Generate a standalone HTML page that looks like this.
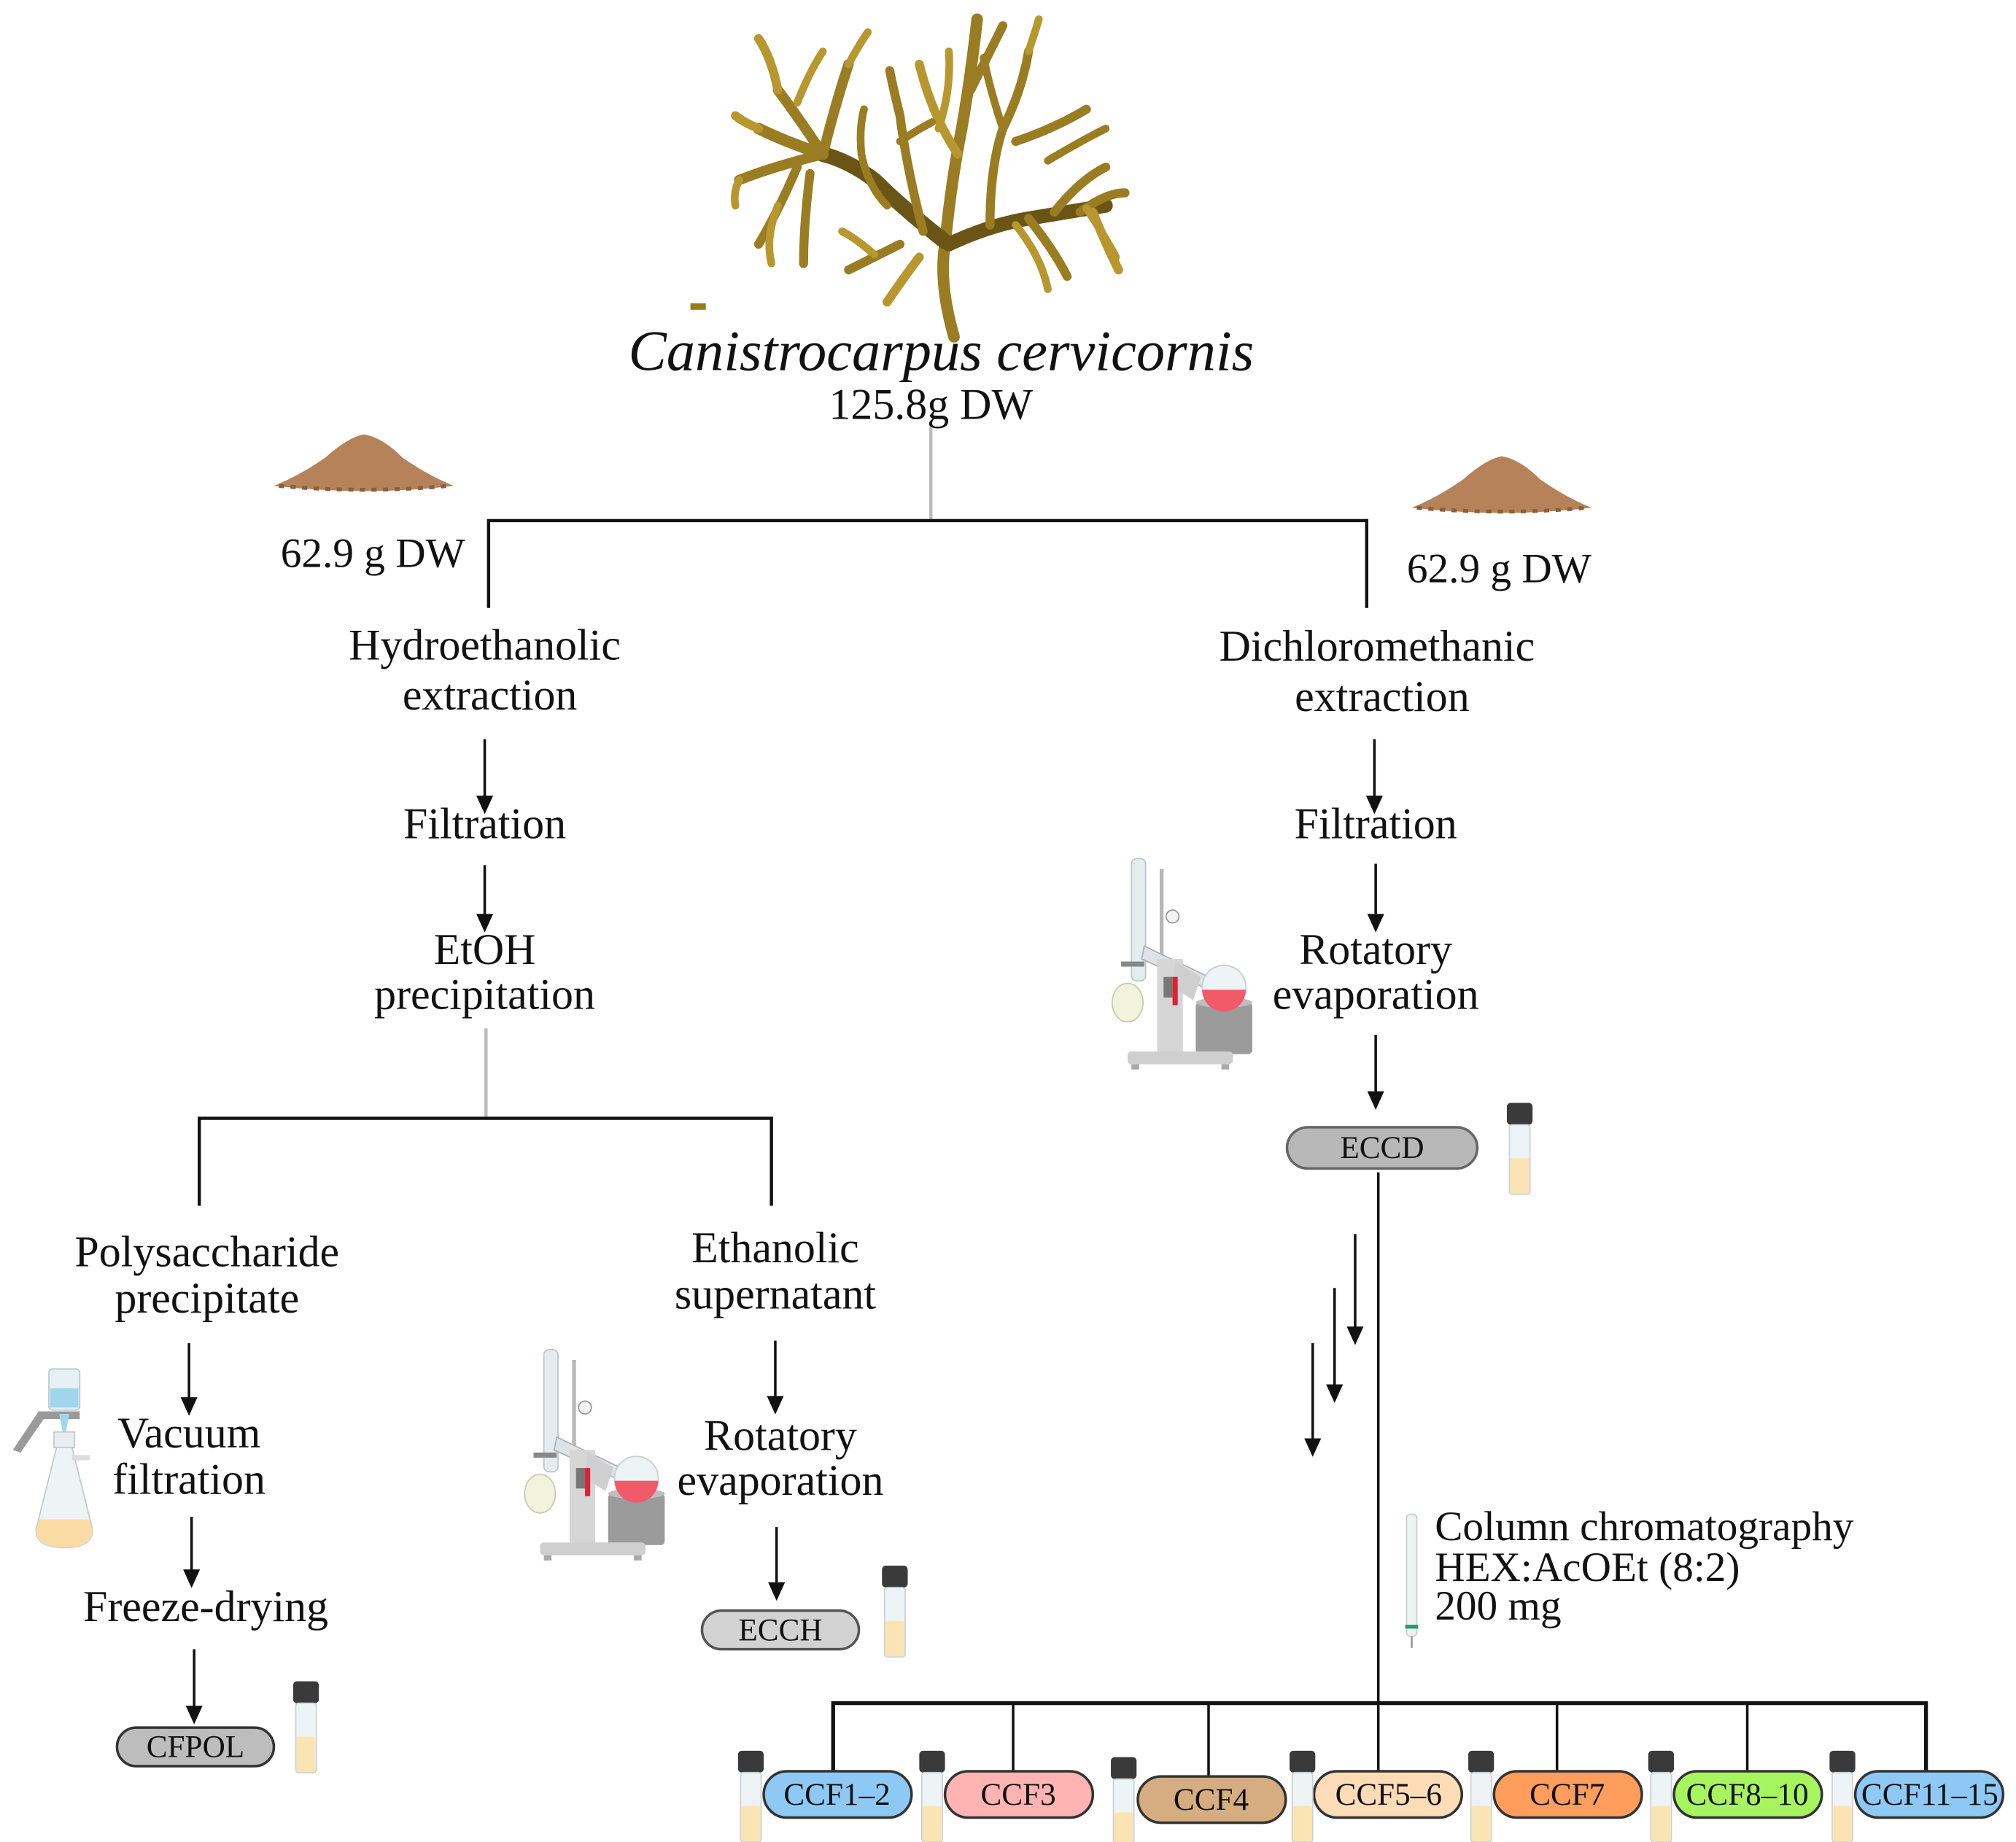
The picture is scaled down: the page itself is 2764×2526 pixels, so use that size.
<!DOCTYPE html>
<html><head><meta charset="utf-8"><style>
html,body{margin:0;padding:0;background:#fff}
svg{display:block}
text{font-family:"Liberation Serif",serif;fill:#111}
</style></head><body>
<svg width="2764" height="2526" viewBox="0 0 1568 1433" xmlns="http://www.w3.org/2000/svg">
<defs>
<g id="vial">
<rect x="0" y="0" width="20" height="17" rx="3" fill="#3a3a3a"/>
<rect x="2" y="17" width="16" height="54" rx="2" fill="#eef3f6" stroke="#c9d2d6" stroke-width="1"/>
<rect x="2.5" y="43" width="15" height="27.5" rx="2" fill="#fbe4b4"/>
</g>
<g id="rotavap">
<rect x="18" y="0" width="11" height="95" rx="4" fill="#e4ecef" stroke="#bcc6ca"/>
<rect x="40" y="8" width="3" height="150" fill="#b8b8b8"/>
<circle cx="50" cy="45" r="5" fill="#f2f2f2" stroke="#999"/>
<path d="M28 68 L78 92 L74 100 L26 78Z" fill="#dde3e6" stroke="#b0b0b0"/>
<rect x="38" y="78" width="20" height="75" fill="#d6d6d6"/>
<path d="M52 80 L72 92 L66 110 L50 100Z" fill="#cfcfcf"/>
<rect x="50" y="92" width="4" height="22" fill="#d23"/>
<rect x="43" y="92" width="7" height="16" fill="#777"/>
<rect x="68" y="112" width="44" height="40" rx="3" fill="#9b9b9b"/>
<ellipse cx="90" cy="112" rx="22" ry="4" fill="#bdbdbd"/>
<circle cx="90" cy="100" r="17" fill="#eef3f6" stroke="#c6ced2"/>
<path d="M73 102 A17 17 0 0 0 107 102Z" fill="#f25a6a"/>
<ellipse cx="15" cy="112" rx="12" ry="15" fill="#f1f3dc" stroke="#c8cbb0"/>
<rect x="10" y="80" width="18" height="4" fill="#888"/>
<rect x="15" y="150" width="82" height="10" rx="3" fill="#cfcfcf"/>
<rect x="18" y="160" width="6" height="4" fill="#aaa"/><rect x="88" y="160" width="6" height="4" fill="#aaa"/>
</g>
<g id="pile">
<path d="M0 40 Q20 32 40 18 Q58 2 70 0 Q84 2 100 18 Q120 32 140 40 Q70 48 0 40Z" fill="#b5825a"/>
<path d="M4 40 Q70 46 136 40" stroke="#8c5e3c" stroke-width="3" fill="none" stroke-dasharray="4 5"/>
</g>
</defs>

<!-- seaweed -->
<g stroke="#9a7c22" fill="none" stroke-linecap="round" stroke-linejoin="round">
<path d="M742 262 Q730 220 735 190 Q740 140 748 100 Q755 60 760 15" stroke-width="9"/>
<path d="M735 188 Q700 160 680 140 Q660 125 640 120" stroke-width="12" stroke="#6b5516"/>
<path d="M640 120 Q610 110 590 100" stroke-width="9"/>
<path d="M590 100 Q578 95 572 90" stroke-width="7" stroke="#b8972f"/>
<path d="M640 120 Q620 90 605 70" stroke-width="8"/>
<path d="M640 120 Q650 80 660 50" stroke-width="8"/>
<path d="M660 50 Q668 35 675 25" stroke-width="6" stroke="#b8972f"/>
<path d="M605 70 Q600 45 590 30" stroke-width="7" stroke="#b8972f"/>
<path d="M620 80 Q630 55 640 40" stroke-width="6" stroke="#b8972f"/>
<path d="M640 120 Q600 130 575 140" stroke-width="8"/>
<path d="M575 140 Q570 150 572 160" stroke-width="6" stroke="#b8972f"/>
<path d="M620 130 Q605 165 590 190" stroke-width="7"/>
<path d="M630 135 Q625 175 625 205" stroke-width="7"/>
<path d="M605 160 Q595 185 600 205" stroke-width="6" stroke="#b8972f"/>
<path d="M738 190 Q770 175 800 170 Q830 165 860 160" stroke-width="11" stroke="#6b5516"/>
<path d="M800 170 Q820 195 830 215" stroke-width="7"/>
<path d="M840 165 Q860 150 875 150" stroke-width="7"/>
<path d="M845 162 Q860 185 868 200" stroke-width="6" stroke="#b8972f"/>
<path d="M770 175 Q770 130 780 100 Q795 70 800 40" stroke-width="7"/>
<path d="M790 110 Q820 100 845 85" stroke-width="7"/>
<path d="M800 40 Q805 25 808 15" stroke-width="6" stroke="#b8972f"/>
<path d="M780 100 Q770 70 765 45" stroke-width="6"/>
<path d="M815 125 Q840 110 860 100" stroke-width="6"/>
<path d="M820 165 Q840 140 860 130" stroke-width="7"/>
<path d="M745 120 Q725 90 715 50" stroke-width="7" stroke="#b8972f"/>
<path d="M730 100 Q740 70 738 40" stroke-width="6" stroke="#b8972f"/>
<path d="M718 180 Q705 130 700 90 Q695 70 692 55" stroke-width="7"/>
<path d="M700 110 Q715 100 725 95" stroke-width="6"/>
<path d="M690 160 Q675 145 670 120 Q668 100 672 85" stroke-width="6"/>
<path d="M700 190 Q680 200 660 210" stroke-width="7"/>
<path d="M680 198 Q665 185 655 180" stroke-width="6" stroke="#b8972f"/>
<path d="M715 200 Q700 220 690 235" stroke-width="7" stroke="#b8972f"/>
<path d="M755 70 Q770 40 780 20" stroke-width="7"/>
<path d="M850 165 Q860 190 870 210" stroke-width="7" stroke="#b8972f"/>
<path d="M790 175 Q810 200 815 225" stroke-width="6" stroke="#b8972f"/>
</g>
<rect x="537" y="236" width="12" height="5" fill="#9a7a18"/>

<text x="732" y="288" font-size="44.5" font-style="italic" text-anchor="middle">Canistrocarpus cervicornis</text>
<text x="724" y="326" font-size="34" text-anchor="middle">125.8g DW</text>

<use href="#pile" x="213" y="338"/>
<use href="#pile" x="1098" y="355"/>
<text x="290" y="441" font-size="32.5" text-anchor="middle">62.9 g DW</text>
<text x="1166" y="453" font-size="32.5" text-anchor="middle">62.9 g DW</text>

<g stroke="#111" stroke-width="2.5" fill="none">
<line x1="724" y1="332" x2="724" y2="405" stroke="#bbb"/>
<path d="M380 473 V405 H1063 V473"/>
<line x1="378" y1="800" x2="378" y2="870" stroke="#bbb"/>
<path d="M155 938 V870 H600 V938"/>
<line x1="1072" y1="912" x2="1072" y2="1325" stroke-width="2"/>
<path d="M648 1380 V1325 H1498 V1380" stroke-width="3"/>
<line x1="788" y1="1325" x2="788" y2="1380" stroke-width="2"/>
<line x1="940" y1="1325" x2="940" y2="1382" stroke-width="2"/>
<line x1="1072" y1="1325" x2="1072" y2="1380" stroke-width="2"/>
<line x1="1211" y1="1325" x2="1211" y2="1380" stroke-width="2"/>
<line x1="1359" y1="1325" x2="1359" y2="1380" stroke-width="2"/>
</g>

<g stroke="#111" stroke-width="2" fill="#111">
<line x1="377" y1="575" x2="377" y2="622"/><path d="M372 620 L382 620 L377 631Z"/>
<line x1="377" y1="673" x2="377" y2="714"/><path d="M372 712 L382 712 L377 723Z"/>
<line x1="147" y1="1045" x2="147" y2="1090"/><path d="M142 1088 L152 1088 L147 1099Z"/>
<line x1="149" y1="1180" x2="149" y2="1224"/><path d="M144 1222 L154 1222 L149 1233Z"/>
<line x1="151" y1="1283" x2="151" y2="1330"/><path d="M146 1328 L156 1328 L151 1339Z"/>
<line x1="603" y1="1043" x2="603" y2="1089"/><path d="M598 1087 L608 1087 L603 1098Z"/>
<line x1="604" y1="1188" x2="604" y2="1234"/><path d="M599 1232 L609 1232 L604 1243Z"/>
<line x1="1069" y1="575" x2="1069" y2="622"/><path d="M1064 620 L1074 620 L1069 631Z"/>
<line x1="1070" y1="672" x2="1070" y2="714"/><path d="M1065 712 L1075 712 L1070 723Z"/>
<line x1="1070" y1="805" x2="1070" y2="852"/><path d="M1065 850 L1075 850 L1070 861Z"/>
<line x1="1054" y1="960" x2="1054" y2="1035"/><path d="M1049 1033 L1059 1033 L1054 1044Z"/>
<line x1="1038" y1="1002" x2="1038" y2="1080"/><path d="M1033 1078 L1043 1078 L1038 1089Z"/>
<line x1="1021" y1="1045" x2="1021" y2="1122"/><path d="M1016 1120 L1026 1120 L1021 1131Z"/>
</g>

<g font-size="34" text-anchor="middle">
<text x="377" y="513">Hydroethanolic</text>
<text x="381" y="552">extraction</text>
<text x="377" y="652">Filtration</text>
<text x="377" y="750">EtOH</text>
<text x="377" y="785">precipitation</text>
<text x="161" y="985">Polysaccharide</text>
<text x="161" y="1021">precipitate</text>
<text x="147" y="1126">Vacuum</text>
<text x="147" y="1162">filtration</text>
<text x="160" y="1261">Freeze-drying</text>
<text x="603" y="982">Ethanolic</text>
<text x="603" y="1018">supernatant</text>
<text x="607" y="1128">Rotatory</text>
<text x="607" y="1163">evaporation</text>
<text x="1071" y="514">Dichloromethanic</text>
<text x="1075" y="553">extraction</text>
<text x="1070" y="652">Filtration</text>
<text x="1070" y="750">Rotatory</text>
<text x="1070" y="785">evaporation</text>
</g>
<g font-size="32.5">
<text x="1116" y="1198">Column chromatography</text>
<text x="1116" y="1230">HEX:AcOEt (8:2)</text>
<text x="1116" y="1260">200 mg</text>
</g>
<rect x="1094" y="1178" width="8" height="95" rx="3" fill="#eef2f2" stroke="#c8d0d0"/>
<line x1="1098" y1="1273" x2="1098" y2="1282" stroke="#999" stroke-width="1.5"/>
<rect x="1093" y="1264" width="10" height="3" fill="#2a9a6a"/>

<g>
<rect x="38" y="1065" width="24" height="32" rx="3" fill="#e7f1f5" stroke="#b9c9d0"/>
<rect x="39" y="1080" width="22" height="15" fill="#9fd6ee"/>
<path d="M10 1128 L30 1098 L62 1098 L62 1104 L34 1104 L16 1130Z" fill="#9a9a9a"/>
<path d="M46 1100 L54 1100 L51 1115 L49 1115Z" fill="#9fd6ee"/>
<rect x="42" y="1114" width="16" height="12" fill="#e9eef0" stroke="#c2c8cb"/>
<path d="M44 1126 L56 1126 L72 1190 Q72 1204 50 1204 Q28 1204 28 1190Z" fill="#eef3f6" stroke="#c3cbcf"/>
<path d="M31 1182 L69 1182 L72 1190 Q72 1204 50 1204 Q28 1204 28 1190Z" fill="#f8dca3"/>
<rect x="56" y="1132" width="14" height="4" fill="#ddd"/>
</g>

<use href="#rotavap" x="405" y="1050"/>
<use href="#rotavap" x="862" y="668"/>

<g stroke="#333" stroke-width="2">
<rect x="1001" y="877" width="148" height="32" rx="16" fill="#b8b8b8" stroke="#666"/>
<rect x="546" y="1253" width="122" height="30" rx="15" fill="#d2d2d2" stroke="#555"/>
<rect x="91" y="1344" width="122" height="30" rx="15" fill="#bdbdbd"/>
<rect x="594" y="1378" width="115" height="36" rx="18" fill="#8ec9f5"/>
<rect x="735" y="1378" width="115" height="36" rx="18" fill="#ffb3b3"/>
<rect x="885" y="1382" width="115" height="36" rx="18" fill="#d6ad80"/>
<rect x="1022" y="1378" width="115" height="36" rx="18" fill="#fbdcb7"/>
<rect x="1162" y="1378" width="115" height="36" rx="18" fill="#ff9d5c"/>
<rect x="1302" y="1378" width="115" height="36" rx="18" fill="#a6f55f"/>
<rect x="1443" y="1378" width="115" height="36" rx="18" fill="#8ec9f5"/>
</g>
<g font-size="24.5" text-anchor="middle">
<text x="1075" y="901">ECCD</text>
<text x="607" y="1276">ECCH</text>
<text x="152" y="1367">CFPOL</text>
<text x="651" y="1404">CCF1–2</text>
<text x="792" y="1404">CCF3</text>
<text x="942" y="1408">CCF4</text>
<text x="1080" y="1404">CCF5–6</text>
<text x="1219" y="1404">CCF7</text>
<text x="1359" y="1404">CCF8–10</text>
<text x="1501" y="1404">CCF11–15</text>
</g>

<use href="#vial" x="1172" y="858"/>
<use href="#vial" x="686" y="1218"/>
<use href="#vial" x="228" y="1308"/>
<use href="#vial" x="574" y="1362"/>
<use href="#vial" x="715" y="1362"/>
<use href="#vial" x="864" y="1367"/>
<use href="#vial" x="1003" y="1362"/>
<use href="#vial" x="1142" y="1362"/>
<use href="#vial" x="1282" y="1362"/>
<use href="#vial" x="1423" y="1362"/>
</svg>
</body></html>
